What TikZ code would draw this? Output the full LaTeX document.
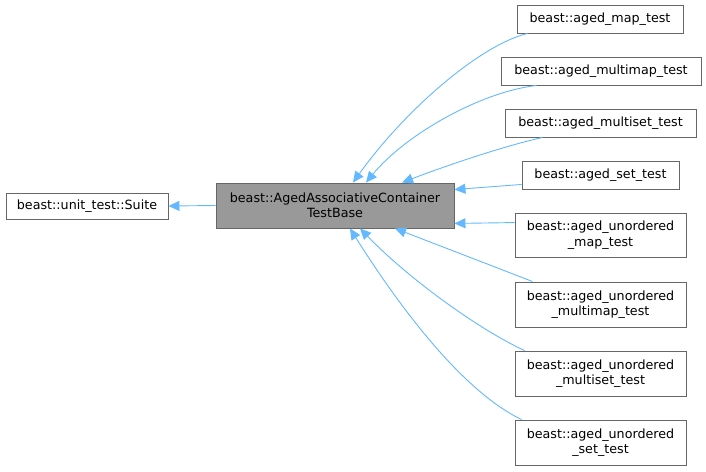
\documentclass[tikz,border=0pt]{standalone}
\usepackage{fontspec}
\setmainfont{DejaVu Sans}
\usetikzlibrary{arrows.meta}
\definecolor{edgeblue}{HTML}{63B8FF}
\definecolor{boxborder}{HTML}{666666}
\definecolor{basefill}{HTML}{999999}
\tikzset{
  cls/.style={draw=boxborder, fill=white, line width=0.9pt, inner sep=0pt, align=center,
    font=\fontsize{12.7}{15.5}\selectfont, text=black},
  basecls/.style={cls, fill=basefill},
  inh/.style={draw=edgeblue, line width=0.9pt, -{Triangle[length=11pt,width=10pt,fill=edgeblue]}},
}
\begin{document}
\begin{tikzpicture}[x=1pt,y=-1pt]
\useasboundingbox (0,0) rectangle (706,471);
\node[cls, minimum width=162pt, minimum height=26pt] (suite) at (87,206) {beast::unit\_test::Suite};
\node[basecls, minimum width=238pt, minimum height=45pt] (base) at (335,205.5) {beast::AgedAssociativeContainer\\TestBase};
\node[cls, minimum width=166pt, minimum height=28pt] (m1) at (600,19) {beast::aged\_map\_test};
\node[cls, minimum width=200pt, minimum height=28pt] (m2) at (601,71) {beast::aged\_multimap\_test};
\node[cls, minimum width=191pt, minimum height=28pt] (m3) at (600.5,123) {beast::aged\_multiset\_test};
\node[cls, minimum width=157pt, minimum height=28pt] (m4) at (600.5,175) {beast::aged\_set\_test};
\node[cls, minimum width=171pt, minimum height=44pt] (u1) at (600.5,235) {beast::aged\_unordered\\\_map\_test};
\node[cls, minimum width=171pt, minimum height=45pt] (u2) at (600.5,304.5) {beast::aged\_unordered\\\_multimap\_test};
\node[cls, minimum width=171pt, minimum height=45pt] (u3) at (600.5,373.5) {beast::aged\_unordered\\\_multiset\_test};
\node[cls, minimum width=171pt, minimum height=45pt] (u4) at (600.5,442.5) {beast::aged\_unordered\\\_set\_test};

\draw[inh] (base.west) -- (suite.east);
\draw[inh] ([xshift=11pt]m1.south west) .. controls (480,45) and (405,110) .. ([xshift=18pt]base.north);
\draw[inh] ([xshift=36pt]m2.south west) .. controls (480,92) and (405,135) .. ([xshift=31pt]base.north);
\draw[inh] ([xshift=38pt]m3.south west) .. controls (500,147) and (440,168) .. ([xshift=67pt]base.north);
\draw[inh] ([yshift=5pt]m4.south west) -- ([yshift=-7pt]base.north east);
\draw[inh] ([yshift=-10pt]u1.north west) -- ([yshift=5pt]base.south east);
\draw[inh] ([xshift=18pt]u2.north west) .. controls (490,265) and (430,242) .. ([xshift=60pt]base.south);
\draw[inh] ([xshift=10pt]u3.north west) .. controls (480,330) and (410,280) .. ([xshift=25pt]base.south);
\draw[inh] ([xshift=7pt]u4.north west) .. controls (460,390) and (395,300) .. ([xshift=15pt]base.south);
\end{tikzpicture}
\end{document}
